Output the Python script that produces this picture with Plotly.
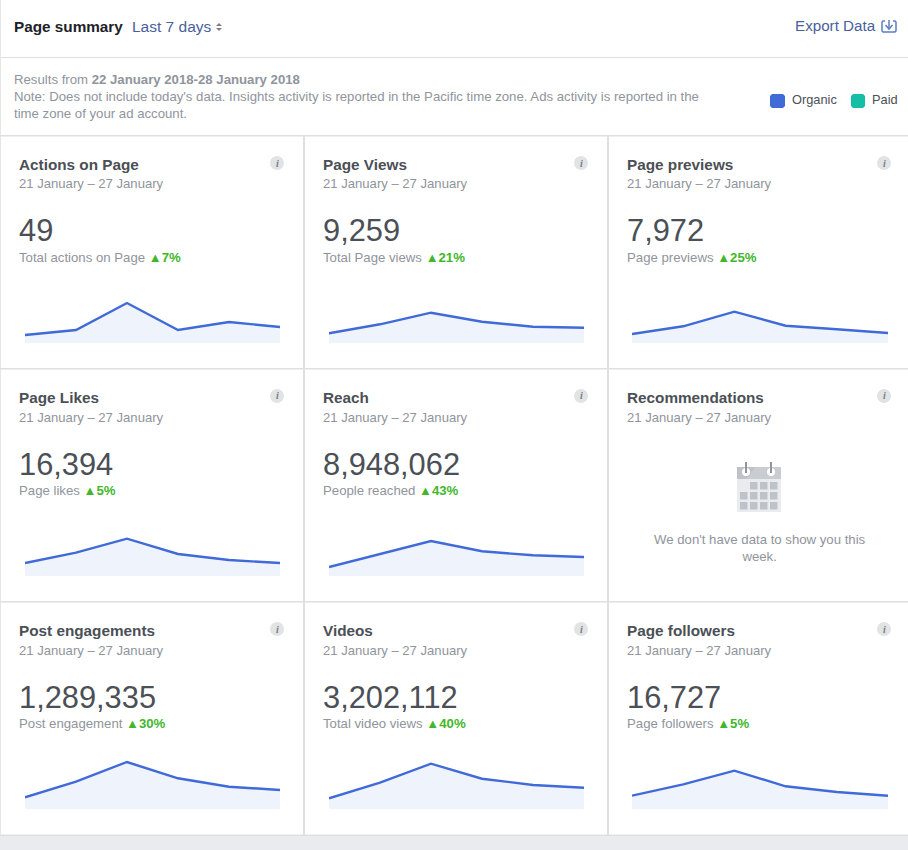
import plotly.graph_objects as go

W, H = 908, 850

# card content, left to right, top to bottom
titles = ["Actions on Page", "Page Views", "Page previews",
          "Page Likes", "Reach", "Recommendations",
          "Post engagements", "Videos", "Page followers"]
date_range = "21 January – 27 January"
totals = ["49", "9,259", "7,972", "16,394", "8,948,062", None, "1,289,335", "3,202,112", "16,727"]
sublabels = ["Total actions on Page", "Total Page views", "Page previews",
             "Page likes", "People reached", None,
             "Post engagement", "Total video views", "Page followers"]
changes = ["7%", "21%", "25%", "5%", "43%", None, "30%", "40%", "5%"]

# sparklines
days = [1, 2, 3, 4, 5, 6]
actions_on_page = [8, 13, 40, 13, 21, 16]
page_views = [9.7, 18.7, 30.3, 21.3, 16.3, 15.3]
page_previews = [9, 16.7, 31.3, 17.3, 13.7, 10]
page_likes = [13, 23.3, 37.3, 22, 16, 13]
reach = [9, 22, 35, 24.7, 20.7, 19]
post_engagements = [11.7, 27.3, 47, 30.7, 22.3, 19]
videos = [10.7, 26.3, 45.3, 30.3, 24, 21.3]
page_followers = [13.3, 24.7, 38.3, 22.7, 17, 13.3]
series = [actions_on_page, page_views, page_previews, page_likes, reach, None,
          post_engagements, videos, page_followers]

col_text = [19, 323, 626.5]
col_spark = [(25, 280), (329, 584), (632, 888)]
col_info = [277, 581, 884]
row_top = [136, 369, 602]

BLUE = "#3f6ad8"
TEAL = "#14bfa5"
FILL = "#eff3fc"
LINK = "#4a5f9c"
DARK = "#4b4f56"
GREY = "#90949c"
GREEN = "#42b72a"
EDGE = "#dddfe2"
FONT = "Liberation Sans"


def fx(px):
    return px / W


def fy(px):
    return 1 - px / H


annotations = []
shapes = []


def text(x, y, s, size, color, anchor="left", family=FONT):
    annotations.append(dict(x=fx(x), y=fy(y), xref="paper", yref="paper", text=s, showarrow=False,
                            xanchor=anchor, yanchor="middle", align=anchor, borderpad=0, borderwidth=0,
                            font=dict(family=family, size=size, color=color)))


def rect(x0, y0, x1, y1, color):
    shapes.append(dict(type="rect", xref="paper", yref="paper", x0=fx(x0), x1=fx(x1), y0=fy(y0), y1=fy(y1),
                       fillcolor=color, line=dict(width=0), layer="below"))


def path(points, color, width=0, fill=True, line_color=None):
    d = "M " + " L ".join(f"{fx(a):.5f},{fy(b):.5f}" for a, b in points)
    if fill:
        d += " Z"
    shapes.append(dict(type="path", xref="paper", yref="paper", path=d,
                       fillcolor=color if fill else "rgba(0,0,0,0)",
                       line=dict(width=width, color=line_color or color), layer="below"))


def circle(cx, cy, r, color):
    shapes.append(dict(type="circle", xref="paper", yref="paper", x0=fx(cx - r), x1=fx(cx + r),
                       y0=fy(cy + r), y1=fy(cy - r), fillcolor=color, line=dict(width=0), layer="below"))


# frame
rect(0, 836, W, H, "#e9ebee")
rect(0, 57, W, 58, EDGE)
rect(0, 0, 1, 836, "#e4e6e9")
for y in [135, 368, 601, 834.5]:
    rect(0, y, W, y + 1.5, EDGE)
for x in [303, 607]:
    rect(x, 136, x + 2, 835, EDGE)

# header
text(14, 27, "<b>Page summary</b>", 15.3, "#1d2129")
text(132, 27, "Last 7 days", 15.5, LINK)
path([(216, 26), (219, 23), (222, 26)], "#7f7f7f")
path([(216, 28), (219, 31), (222, 28)], "#7f7f7f")
text(876, 25.5, "Export Data", 15.2, LINK, anchor="right")
path([(885, 21), (883, 21), (882, 22), (882, 31), (883, 32), (895, 32), (896, 31), (896, 22), (895, 21), (893, 21)],
     "#5b7ec4", width=1.5, fill=False)
path([(889, 20), (889, 28)], "#5b7ec4", width=1.5, fill=False)
path([(885.5, 25), (889, 29), (892.5, 25)], "#5b7ec4", width=1.5, fill=False)

# note and legend
text(14, 79.5, "Results from <b>22 January 2018-28 January 2018</b>", 13.2, GREY)
text(14, 96.5, "Note: Does not include today's data. Insights activity is reported in the Pacific time zone. "
               "Ads activity is reported in the", 13.2, GREY)
text(14, 113.5, "time zone of your ad account.", 13.2, GREY)
for x0, x1, c in [(770, 785, BLUE), (851, 865, TEAL)]:
    path([(x0 + 2, 94), (x1 - 2, 94), (x1, 96), (x1, 106), (x1 - 2, 108), (x0 + 2, 108), (x0, 106), (x0, 96)], c)
text(792, 99.5, "Organic", 12.8, DARK)
text(872, 99.5, "Paid", 12.8, DARK)

fig = go.Figure()

for i, title in enumerate(titles):
    row, col = divmod(i, 3)
    top = row_top[row]
    x = col_text[col]
    text(x, top + 28.5, f"<b>{title}</b>", 15.3, DARK)
    text(x, top + 48, date_range, 13.1, GREY)
    circle(col_info[col], top + 27, 7, "#e2e3e5")
    text(col_info[col], top + 27, "<b><i>i</i></b>", 10, "#7a7d82", anchor="center", family="Liberation Serif")

    if series[i] is None:
        continue
    text(x, top + 95, totals[i], 30.8, DARK)
    text(x, top + 121.5,
         f'{sublabels[i]} <span style="color:{GREEN};font-size:13px">▲</span>'
         f'<span style="color:{GREEN}"><b>{changes[i]}</b></span>', 13.2, GREY)

    axis = "" if i == 0 else str(i + 1)
    base = top + 207
    x0, x1 = col_spark[col]
    fig.add_trace(go.Scatter(x=days, y=series[i], xaxis=f"x{axis}", yaxis=f"y{axis}", mode="lines",
                             line=dict(color=BLUE, width=2.4), fill="tozeroy", fillcolor=FILL,
                             cliponaxis=False, hoverinfo="skip", showlegend=False))
    fig.update_layout({
        f"xaxis{axis}": dict(domain=[fx(x0), fx(x1)], range=[days[0], days[-1]], visible=False, anchor=f"y{axis}"),
        f"yaxis{axis}": dict(domain=[fy(base), fy(base - 60)], range=[0, 60], visible=False, anchor=f"x{axis}"),
    })

# empty Recommendations card
rect(737, 467, 781, 512, "#e9ebee")
rect(737, 467, 781, 479, "#bec3c9")
path([(755, 467), (781, 467), (781, 479), (747, 479)], "#c9cdd2")
for k, cy in enumerate([482, 492, 502]):
    for j, cx in enumerate([740, 750, 760, 770]):
        if k == 0 and j == 0:
            continue
        rect(cx, cy, cx + 7.5, cy + 7.5, "#bec3c9")
for cx in [746, 771]:
    circle(cx, 472, 4, "#ffffff")
    rect(cx - 1, 462, cx + 1, 473, "#90949c")
text(759.5, 548, "We don't have data to show you this<br>week.", 13.2, GREY, anchor="center")

fig.update_layout(width=W, height=H, autosize=False, margin=dict(l=0, r=0, t=0, b=0),
                  paper_bgcolor="white", plot_bgcolor="rgba(0,0,0,0)",
                  annotations=annotations, shapes=shapes)

fig.write_html("out.html", config={"displayModeBar": False},
               post_script="document.body.style.margin='0';document.body.style.overflow='hidden';")
